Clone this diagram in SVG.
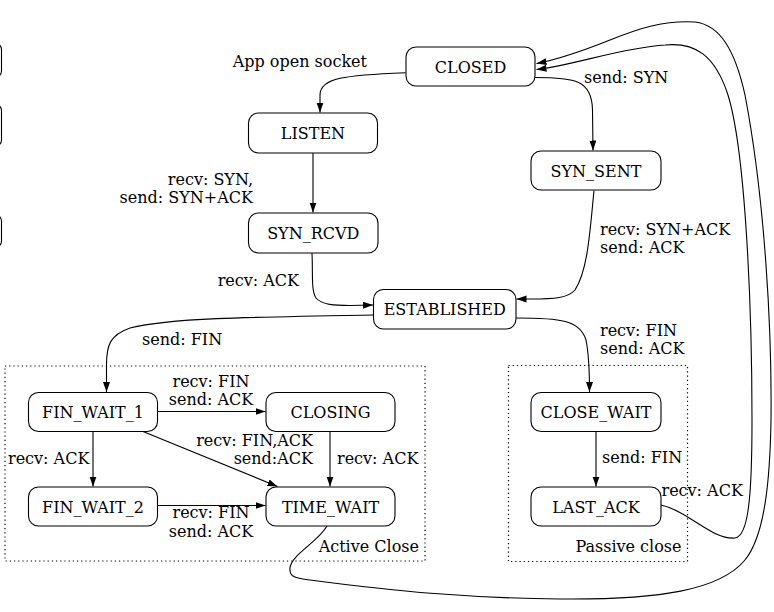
<svg xmlns="http://www.w3.org/2000/svg" width="774" height="612" viewBox="0 0 774 612">
<style>
text{font-family:"DejaVu Serif","Liberation Serif",serif;font-size:16px;fill:#000}
.node rect{fill:#fff;stroke:#000;stroke-width:1.1}
.node text{text-anchor:middle}
.edge{fill:none;stroke:#000;stroke-width:1.1;marker-end:url(#arr)}
.group{fill:none;stroke:#000;stroke-width:1.2;stroke-dasharray:1.2 3}
.e{text-anchor:end}
.m{text-anchor:middle}
</style>
<defs>
<marker id="arr" markerUnits="userSpaceOnUse" markerWidth="12" markerHeight="8" refX="10" refY="3.5" orient="auto">
<path d="M0,0 L10,3.5 L0,7 z" fill="#000"/>
</marker>
</defs>
<rect width="774" height="612" fill="#fff"/>

<g id="legend-edges" fill="#fff" stroke="#000" stroke-width="1.1">
<rect x="-60" y="43.5" width="61.5" height="33.5" rx="6"/>
<rect x="-60" y="104.5" width="61.5" height="41.5" rx="6"/>
<rect x="-60" y="215" width="61.5" height="32" rx="6"/>
</g>

<g id="clusters">
<rect class="group" x="5" y="366" width="420" height="195"/>
<rect class="group" x="508.5" y="365.5" width="179" height="196"/>
<text class="e" x="419" y="552">Active Close</text>
<text class="e" x="681.5" y="552">Passive close</text>
</g>

<g id="connectors">
<path class="edge" d="M405.5,72.7 C345,75 320,78 320,95 L320,112.5"/>
<path class="edge" d="M535,77.5 C575,77.5 592,80 592.5,110 L593,150.5"/>
<path class="edge" d="M313,153 L313,212.5"/>
<path class="edge" d="M312,253 C313,275 311,290 316,298 C322,305 335,305.5 350,305.5 L373,305"/>
<path class="edge" d="M594,190.5 C590,230 588,270 575,290 C568,298 555,299 530,299 L516.5,299"/>
<path class="edge" d="M373.5,315 C250,317 170,318 130,328 C110,335 106.5,345 106.5,365 L106.5,392"/>
<path class="edge" d="M516,318 C560,318 580,320 586,340 C589,355 589.5,370 589.5,392"/>
<path class="edge" d="M157.5,411.5 L265.5,411.5"/>
<path class="edge" d="M93,431.5 L93,486.5"/>
<path class="edge" d="M143,431.5 L277.5,486.5"/>
<path class="edge" d="M330,431.5 L330,486.5"/>
<path class="edge" d="M157.5,505.5 L265.5,505.5"/>
<path class="edge" d="M596,431.5 L596,486.5"/>
<path class="edge" d="M661,505 C690,512 712,540 735,538 C748,536 752,500 752,420 C752,300 745,150 728,95 C715,55 695,42 665,45 C620,48 575,65 536.5,69.5"/>
<path class="edge" d="M327,526 C318,542 291,555 290,568 C289,577 296,578 306,579.5 C400,592 470,598 560,599 C660,600 720,590 745,560 C765,535 770,480 771,420 C772,330 765,200 745,95 C735,50 720,25 695,22 C665,20 640,28 610,40 C580,52 555,60 536.5,63.5"/>
</g>

<g id="edge-labels">
<text class="e" x="367" y="67">App open socket</text>
<text x="584" y="83">send: SYN</text>
<text class="e" x="253" y="185">recv: SYN,</text>
<text class="e" x="253" y="203">send: SYN+ACK</text>
<text x="600" y="235">recv: SYN+ACK</text>
<text x="600" y="253">send: ACK</text>
<text class="e" x="299" y="286">recv: ACK</text>
<text x="142" y="345">send: FIN</text>
<text x="600" y="336">recv: FIN</text>
<text x="600" y="354">send: ACK</text>
<text class="m" x="211" y="386.5">recv: FIN</text>
<text class="m" x="211" y="405">send: ACK</text>
<text x="8" y="464">recv: ACK</text>
<text class="e" x="313" y="446">recv: FIN,ACK</text>
<text class="e" x="313" y="464">send:ACK</text>
<text x="337" y="464">recv: ACK</text>
<text class="m" x="211" y="518">recv: FIN</text>
<text class="m" x="211" y="537">send: ACK</text>
<text x="602" y="463">send: FIN</text>
<text x="661.5" y="496">recv: ACK</text>
</g>

<g id="CLOSED" class="node"><rect x="406" y="47" width="129" height="39" rx="10"/><text x="470.5" y="72.5">CLOSED</text></g>
<g id="LISTEN" class="node"><rect x="248.5" y="113" width="129" height="40" rx="10"/><text x="313" y="139">LISTEN</text></g>
<g id="SYN_SENT" class="node"><rect x="531" y="151" width="130" height="39" rx="10"/><text x="596" y="176.5">SYN_SENT</text></g>
<g id="SYN_RCVD" class="node"><rect x="248.5" y="213" width="129.5" height="40" rx="10"/><text x="313.25" y="239">SYN_RCVD</text></g>
<g id="ESTABLISHED" class="node"><rect x="373.5" y="289.5" width="142.5" height="39.5" rx="10"/><text x="444.75" y="315.25">ESTABLISHED</text></g>
<g id="FIN_WAIT_1" class="node"><rect x="28.5" y="392.5" width="129" height="39" rx="10"/><text x="93" y="418">FIN_WAIT_1</text></g>
<g id="CLOSING" class="node"><rect x="266" y="392.5" width="129" height="39" rx="10"/><text x="330.5" y="418">CLOSING</text></g>
<g id="FIN_WAIT_2" class="node"><rect x="28.5" y="487" width="129" height="39" rx="10"/><text x="93" y="512.5">FIN_WAIT_2</text></g>
<g id="TIME_WAIT" class="node"><rect x="266" y="487" width="129" height="39" rx="10"/><text x="330.5" y="512.5">TIME_WAIT</text></g>
<g id="CLOSE_WAIT" class="node"><rect x="531" y="392.5" width="130" height="39" rx="10"/><text x="596" y="418">CLOSE_WAIT</text></g>
<g id="LAST_ACK" class="node"><rect x="531" y="487" width="130" height="39" rx="10"/><text x="596" y="512.5">LAST_ACK</text></g>
</svg>
